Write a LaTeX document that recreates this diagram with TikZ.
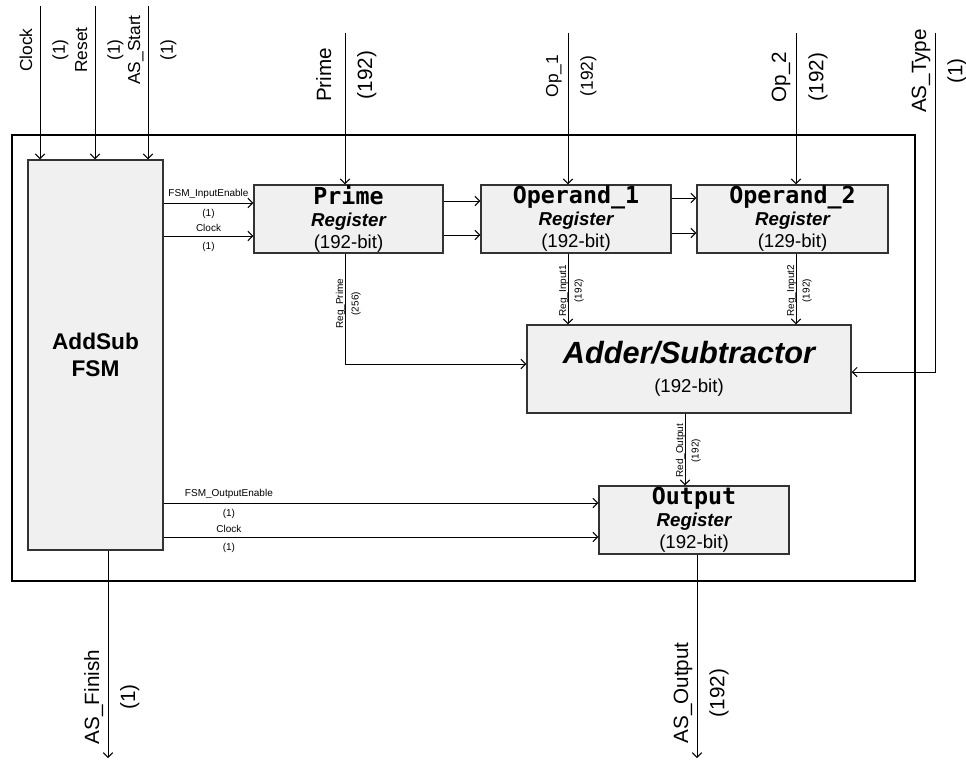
\documentclass[tikz,border=0pt]{standalone}
\usepackage{fontspec}
\setmainfont{Liberation Sans}
\newfontfamily\monofont{DejaVu Sans Mono}
\usetikzlibrary{arrows.meta, positioning, calc}
\definecolor{boxfill}{HTML}{F0F0F0}
\definecolor{boxline}{HTML}{333333}
\newcommand{\regtitle}[1]{{\monofont\bfseries\fontsize{17.5}{17.5}\selectfont #1}}
\newcommand{\regsub}{{\bfseries\itshape Register}}
\tikzset{
  blockbox/.style={rectangle, draw=boxline, fill=boxfill, line width=1.1pt,
    inner sep=0pt, align=center},
  regbox/.style={blockbox, minimum width=142.5pt, minimum height=51pt,
    font=\fontsize{14}{16.5}\selectfont},
  fsmbox/.style={blockbox, minimum width=101.25pt, minimum height=292.5pt,
    font=\fontsize{17}{20}\selectfont\bfseries},
  addbox/.style={blockbox, minimum width=243pt, minimum height=66pt,
    font=\fontsize{14}{22}\selectfont},
  outerbox/.style={rectangle, draw=black, line width=1pt, minimum width=677.25pt,
    minimum height=334.5pt, inner sep=0pt},
  arrow/.style={-{Straight Barb[length=3.5pt,width=7pt]}, line width=0.75pt},
  biglabel/.style={rotate=90, inner sep=0pt, font=\fontsize{15.5}{15.5}\selectfont},
  midlabel/.style={rotate=90, inner sep=0pt, font=\fontsize{13}{13}\selectfont},
  tinylabel/.style={rotate=90, inner sep=0pt, font=\fontsize{7.5}{7.5}\selectfont},
  flatlabel/.style={inner sep=0pt, font=\fontsize{7.5}{7.5}\selectfont}
}

\begin{document}
\begin{tikzpicture}[x=0.75pt, y=-0.75pt]
  \useasboundingbox (0,0) rectangle (966,761);

  % blocks
  \node[outerbox] (frame) at (463.5,358) {};
  \node[fsmbox] (fsm) at (95.5,355) {AddSub\\FSM};
  \node[regbox, minimum width=141.75pt] (prime) at (348.5,219)
        {\regtitle{Prime}\\\regsub\\(192-bit)};
  \node[regbox] (op1) at (576,219) {\regtitle{Operand\_1}\\\regsub\\(192-bit)};
  \node[regbox, minimum width=143.25pt] (op2) at (792.5,219)
        {\regtitle{Operand\_2}\\\regsub\\(129-bit)};
  \node[addbox] (adder) at (689,369)
        {{\fontsize{23}{23}\selectfont\bfseries\itshape Adder/Subtractor}\\(192-bit)};
  \node[regbox] (outreg) at (694,520) {\regtitle{Output}\\\regsub\\(192-bit)};

  % wire ends
  \coordinate (clkTop)   at (40,6);
  \coordinate (rstTop)   at (95,6);
  \coordinate (startTop) at (148,6);
  \coordinate (primeTop) at (345,33);
  \coordinate (op1Top)   at (568,33);
  \coordinate (op2Top)   at (796,33);
  \coordinate (typeTop)  at (935,33);
  \coordinate (finEnd)   at (108,758);
  \coordinate (outEnd)   at (697,758);
  \coordinate (pIn1) at ([yshift=12pt]prime.west);
  \coordinate (pIn2) at ([yshift=-12.75pt]prime.west);
  \coordinate (qIn1) at ([yshift=13.5pt]op1.west);
  \coordinate (qIn2) at ([yshift=-12pt]op1.west);
  \coordinate (rIn1) at ([yshift=15.75pt]op2.west);
  \coordinate (rIn2) at ([yshift=-10.5pt]op2.west);
  \coordinate (oIn1) at ([yshift=12.75pt]outreg.west);
  \coordinate (oIn2) at ([yshift=-12.75pt]outreg.west);
  \coordinate (aIn)  at ([yshift=3.75pt]adder.west);
  \coordinate (tIn)  at ([yshift=-2.25pt]adder.east);
  \coordinate (redOut) at ([xshift=-3pt]adder.south);

  % inputs from the top
  \draw[arrow] (clkTop)   -- (clkTop |- fsm.north);
  \draw[arrow] (rstTop)   -- (rstTop |- fsm.north);
  \draw[arrow] (startTop) -- (startTop |- fsm.north);
  \draw[arrow] (primeTop) -- (primeTop |- prime.north);
  \draw[arrow] (op1Top)   -- (op1Top |- op1.north);
  \draw[arrow] (op2Top)   -- (op2Top |- op2.north);
  \draw[arrow] (typeTop)  |- (tIn);

  \node[midlabel, anchor=base]  (lClk)   at ($(clkTop)+(-8,44)$)    {Clock};
  \node[midlabel, anchor=north] (nClk)   at ($(clkTop)+(12,44)$)    {(1)};
  \node[midlabel, anchor=base]  (lRst)   at ($(rstTop)+(-8,44)$)    {Reset};
  \node[midlabel, anchor=north] (nRst)   at ($(rstTop)+(12,44)$)    {(1)};
  \node[midlabel, anchor=base]  (lStart) at ($(startTop)+(-8,44)$)  {AS\_Start};
  \node[midlabel, anchor=north] (nStart) at ($(startTop)+(12,44)$)  {(1)};
  \node[biglabel, anchor=base]  (lPrime) at ($(primeTop)+(-14,42)$) {Prime};
  \node[biglabel, anchor=north] (nPrime) at ($(primeTop)+(12,42)$)  {(192)};
  \node[midlabel, anchor=base]  (lOp1)   at ($(op1Top)+(-10,43)$)   {Op\_1};
  \node[midlabel, anchor=north] (nOp1)   at ($(op1Top)+(12,43)$)    {(192)};
  \node[biglabel, anchor=base]  (lOp2)   at ($(op2Top)+(-10,44)$)   {Op\_2};
  \node[biglabel, anchor=north] (nOp2)   at ($(op2Top)+(12,44)$)    {(192)};
  \node[biglabel, anchor=base]  (lType)  at ($(typeTop)+(-9,38)$)   {AS\_Type};
  \node[biglabel, anchor=north] (nType)  at ($(typeTop)+(12,38)$)   {(1)};

  % fsm to registers
  \draw[arrow] (fsm.east |- pIn1) -- (pIn1)
        node[flatlabel, midway, above=3pt] (lIe) {FSM\_InputEnable}
        node[flatlabel, midway, below=4pt] (nIe) {(1)};
  \draw[arrow] (fsm.east |- pIn2) -- (pIn2)
        node[flatlabel, midway, above=3pt] (lCk1) {Clock}
        node[flatlabel, midway, below=4pt] (nCk1) {(1)};
  \draw[arrow] (prime.east |- qIn1) -- (qIn1);
  \draw[arrow] (prime.east |- qIn2) -- (qIn2);
  \draw[arrow] (op1.east |- rIn1) -- (rIn1);
  \draw[arrow] (op1.east |- rIn2) -- (rIn2);
  \draw[arrow] (fsm.east |- oIn1) -- (oIn1)
        node[flatlabel, pos=0.15, above=3pt] (lOe) {FSM\_OutputEnable}
        node[flatlabel, pos=0.15, below=4pt] (nOe) {(1)};
  \draw[arrow] (fsm.east |- oIn2) -- (oIn2)
        node[flatlabel, pos=0.15, above=3pt] (lCk2) {Clock}
        node[flatlabel, pos=0.15, below=4pt] (nCk2) {(1)};

  % registers to adder
  \draw[arrow] (primeTop |- prime.south) |- (aIn);
  \draw[arrow] (op1Top |- op1.south) -- (op1Top |- adder.north);
  \draw[arrow] (op2Top |- op2.south) -- (op2Top |- adder.north);
  \draw[arrow] (redOut) -- (redOut |- outreg.north);

  \node[tinylabel, anchor=base]  (lRp)  at ($(primeTop |- prime.south)+(-2,50)$) {Reg\_Prime};
  \node[tinylabel, anchor=north] (nRp)  at ($(primeTop |- prime.south)+(6,50)$)  {(256)};
  \node[tinylabel, anchor=base]  (lRi1) at ($(op1Top |- op1.south)+(-2,37)$)     {Reg\_Input1};
  \node[tinylabel, anchor=north] (nRi1) at ($(op1Top |- op1.south)+(6,37)$)      {(192)};
  \node[tinylabel, anchor=base]  (lRi2) at ($(op2Top |- op2.south)+(-2,37)$)     {Reg\_Input2};
  \node[tinylabel, anchor=north] (nRi2) at ($(op2Top |- op2.south)+(6,37)$)      {(192)};
  \node[tinylabel, anchor=base]  (lRo)  at ($(redOut)+(-2,37)$)                  {Red\_Output};
  \node[tinylabel, anchor=north] (nRo)  at ($(redOut)+(6,37)$)                   {(192)};

  % outputs
  \draw[arrow] (fsm.south -| finEnd) -- (finEnd);
  \draw[arrow] (outreg.south -| outEnd) -- (outEnd);
  \node[biglabel, anchor=base]  (lFin) at ($(finEnd)+(-9,-61)$) {AS\_Finish};
  \node[biglabel, anchor=north] (nFin) at ($(finEnd)+(12,-61)$) {(1)};
  \node[biglabel, anchor=base]  (lOut) at ($(outEnd)+(-9,-65)$) {AS\_Output};
  \node[biglabel, anchor=north] (nOut) at ($(outEnd)+(12,-65)$) {(192)};
\end{tikzpicture}
\end{document}
